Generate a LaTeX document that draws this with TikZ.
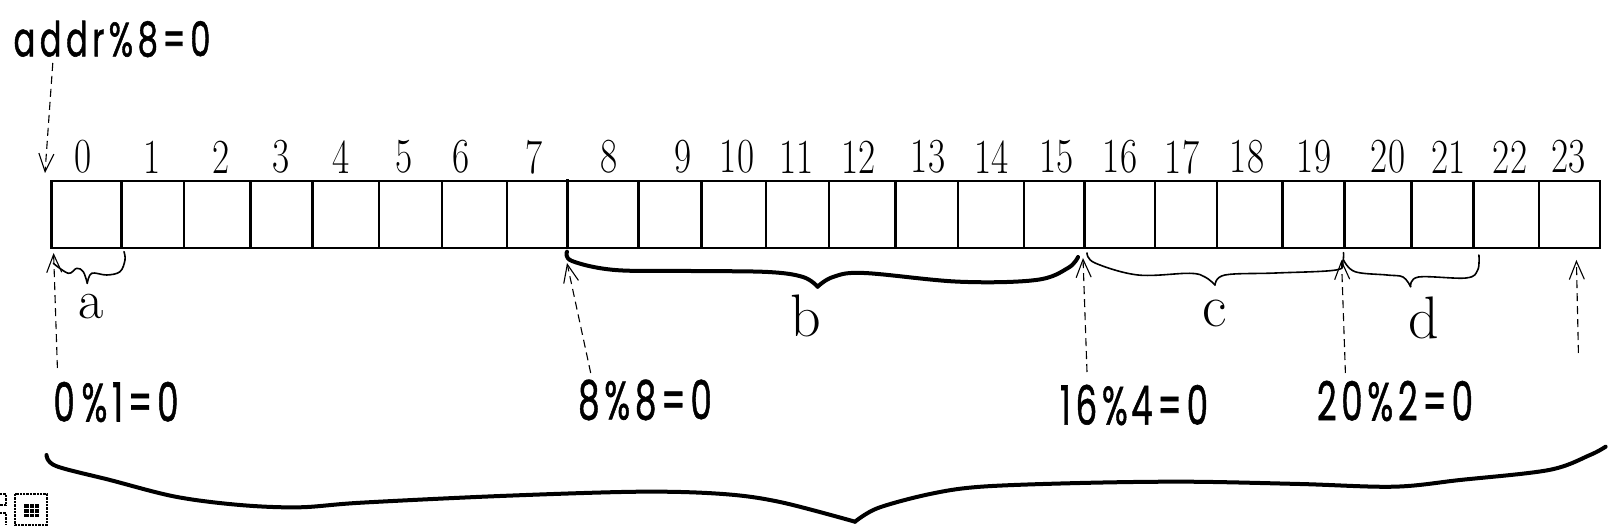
\documentclass[tikz,border=0pt]{standalone}
\usepackage{graphicx}
\usepackage{fontspec}
\newfontfamily\hand[FakeBold=1.2, LetterSpace=14]{Poppins}
\usetikzlibrary{arrows.meta}
\newcommand{\nlab}[1]{\scalebox{0.76}[1]{#1}}
\newcommand{\hlab}[2]{\scalebox{#1}[1]{\hand #2}}
\begin{document}
\begin{tikzpicture}[x=1pt,y=-1pt,
  boxline/.style={line width=2.6pt},
  numlab/.style={inner sep=0pt, font=\fontsize{49}{54}\selectfont},
  letlab/.style={inner sep=0pt, anchor=base, font=\fontsize{60}{64}\selectfont},
  annot/.style={inner sep=0pt, font=\fontsize{54}{58}\selectfont},
  dasharrow/.style={line width=1.1pt, dash pattern=on 8pt off 5pt,
     -{Straight Barb[length=18pt,width=15pt,line width=1.1pt]}},
  thinbrace/.style={line width=1.6pt, line cap=round, line join=round},
  thickbrace/.style={line width=4pt, line cap=round, line join=round},
]
\useasboundingbox (0,0) rectangle (1619,529);

% memory cells
\draw[boxline] (51.7,181) rectangle (1600.1,248);
\foreach \x in {121.3,184.1,250.7,312.7,378.9,442.0,507,638.5,701.7,766,829,895.3,958,1024,1084.5,1154.8,1217.1,1282.3,1344.3,1411.4,1473.7,1538.9}
  \draw[boxline] (\x,181) -- (\x,248);
\draw[line width=3.6pt] (567.5,179.5) -- (567.5,248);

% cell numbers
\foreach \i/\x in {0/82.6,1/151.8,2/221,3/280.8,4/340.7,5/403.7,6/461.5,7/534,8/609.5,9/683,10/737,11/796.5,12/858.5,13/928,14/991.5,15/1056.5,16/1120,17/1182,18/1247,19/1314,20/1388,21/1448.5,22/1510,23/1568.5}
  \node[numlab] (n\i) at (\x,157) {\nlab{\i}};

% annotations
\node[inner sep=0pt, font=\fontsize{48}{52}\selectfont] (addr) at (112,39) {\hlab{0.67}{addr\%8=0}};
\node[annot] (m0) at (116,402) {\hlab{0.63}{0\hspace{0.2em}\%1=0}};
\node[annot] (m8) at (645,400) {\hlab{0.63}{8\%8=0}};
\node[annot] (m16) at (1134,405) {\hlab{0.63}{16\%\hspace{0.1em}4=0}};
\node[annot] (m20) at (1395,401) {\hlab{0.63}{20\%2=0}};

% arrow end points
\coordinate (addrS) at (52.8,63);
\coordinate (addrT) at (45,173);
\coordinate (a0S) at (57.4,368);
\coordinate (a0T) at (53.6,253);
\coordinate (a8S) at (590.7,373);
\coordinate (a8T) at (567,263);
\coordinate (a16S) at (1087,372);
\coordinate (a16T) at (1083,258);
\coordinate (a20S) at (1345.4,373);
\coordinate (a20T) at (1341.5,260);
\coordinate (a24S) at (1578.4,353);
\coordinate (a24T) at (1576.4,260);

\draw[dasharrow] (addrS) -- (addrT);
\draw[dasharrow] (a0S) -- (a0T);
\draw[dasharrow] (a8S) -- (a8T);
\draw[dasharrow] (a16S) -- (a16T);
\draw[dasharrow] (a20S) -- (a20T);
\draw[dasharrow] (a24S) -- (a24T);

% brace a
\draw[thinbrace] plot[smooth, tension=0.6] coordinates {(53.3,263.3) (68.3,273.3) (76.7,268.3) (83.3,271.7) (87.3,283.3)};
\draw[thinbrace] plot[smooth, tension=0.6] coordinates {(87.3,283.3) (91.7,273.3) (106.7,275) (120,271.7) (125,260) (124,251.7)};
\node[letlab, font=\fontsize{55}{58}\selectfont] (la) at (91,318) {a};

% brace b
\draw[thickbrace] plot[smooth, tension=0.6] coordinates {(567,251.7) (572,261) (615,270) (691,271) (768,272) (803,277) (817.6,286.7)};
\draw[thickbrace] plot[smooth, tension=0.6] coordinates {(817.6,286.7) (833,277) (864,273) (959,281.7) (1036,280) (1068,268) (1078,257)};
\node[letlab] (lb) at (806,336.7) {b};

% brace c
\draw[thinbrace] plot[smooth, tension=0.6] coordinates {(1087,253) (1095,263) (1138,275) (1189.5,273.3) (1205,277) (1215,285)};
\draw[thinbrace] plot[smooth, tension=0.6] coordinates {(1215,285) (1225,275) (1276,273) (1336,270) (1342.7,261.7) (1343.5,252.7)};
\node[letlab] (lc) at (1215,326.7) {c};

% brace d
\draw[thinbrace] plot[smooth, tension=0.6] coordinates {(1343.5,260) (1355,271.7) (1387,275) (1403,277) (1410.6,286.7)};
\draw[thinbrace] plot[smooth, tension=0.6] coordinates {(1410.6,286.7) (1418.5,277) (1466,278) (1477.7,270) (1478.9,255)};
\node[letlab] (ld) at (1424,338.3) {d};

% big brace
\draw[thickbrace] plot[smooth, tension=0.55] coordinates {(46.5,455) (56,466) (110,480) (175.5,496.7) (240,505) (299.4,507.3) (361,502.7) (500,496) (640,491.7) (723,494) (780,502) (855,521.7)};
\draw[thickbrace] plot[smooth, tension=0.55] coordinates {(855,521.7) (878,508) (930,494) (981,486.7) (1080,483) (1187,481.7) (1300,484) (1394,486.7) (1460,480) (1549,470) (1590,455) (1605.6,446.7)};

% small icon bottom-left
\draw[densely dotted, line width=2.4pt] (15,494) rectangle (47,525);
\fill (24,504) rectangle (39,517);
\draw[white, line width=0.8pt] (29,504) -- (29,517) (34,504) -- (34,517) (24,508.5) -- (39,508.5) (24,513) -- (39,513);
\draw[densely dotted, line width=2.4pt] (0,494) -- (6,494) -- (6,505) -- (0,505) (0,513) -- (6,513) -- (6,525);
\end{tikzpicture}
\end{document}
